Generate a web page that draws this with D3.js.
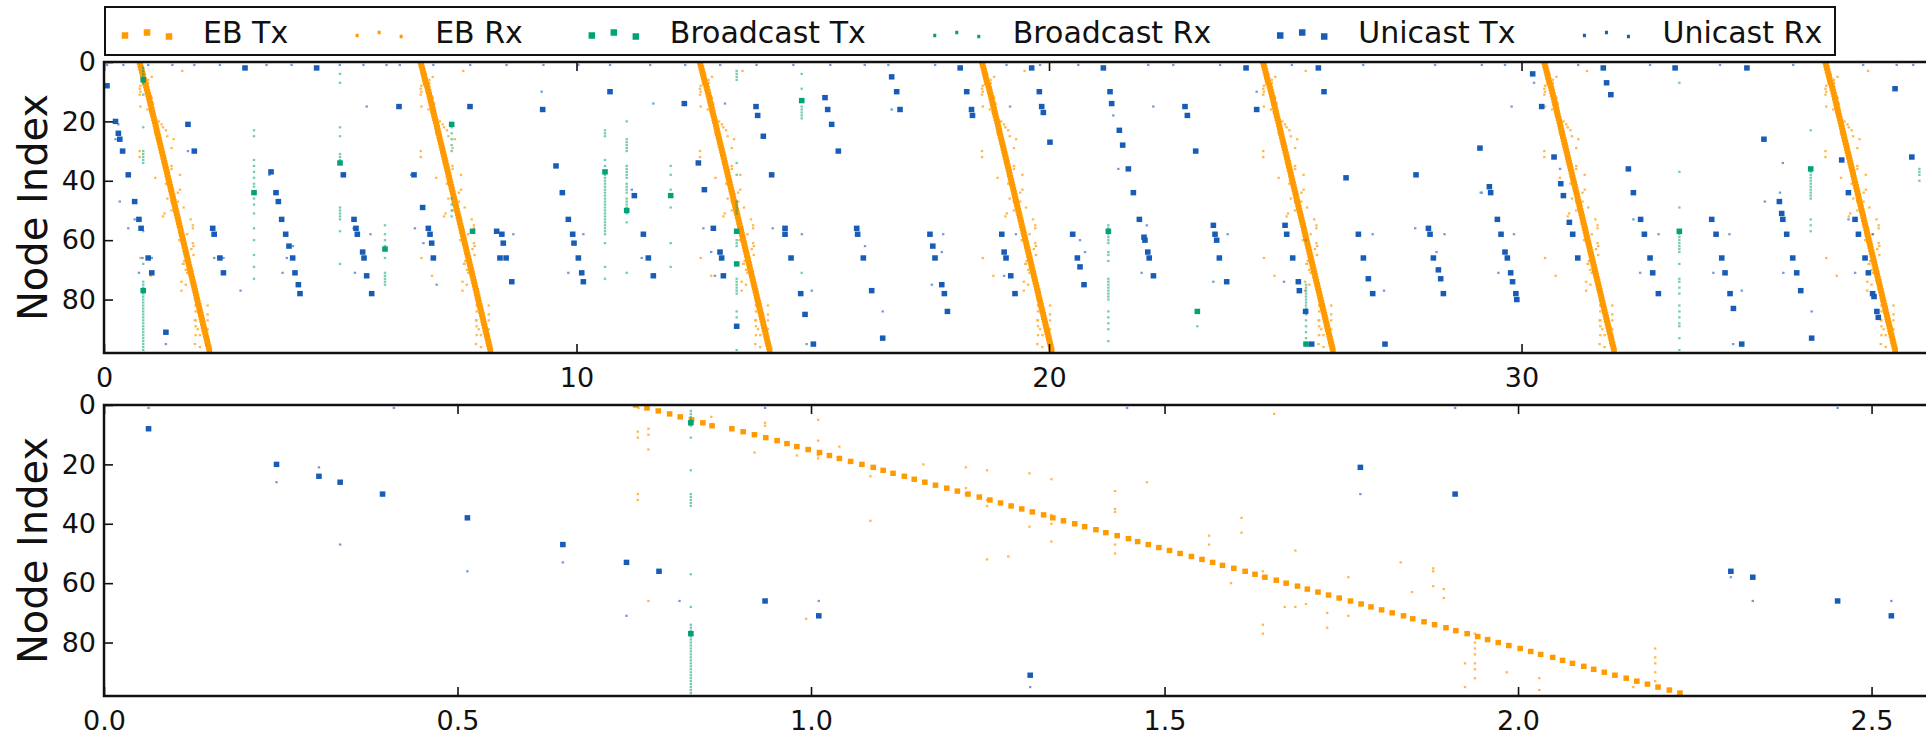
<!DOCTYPE html>
<html>
<head>
<meta charset="utf-8">
<script src="https://cdn.jsdelivr.net/npm/d3@7"></script>
<style>
  body { margin: 0; background: #fff; }
  svg { display: block; font-family: "DejaVu Sans", sans-serif; }
</style>
</head>
<body>
<script>
// legend / axis text
var legendLabels = ["EB Tx", "EB Rx", "Broadcast Tx", "Broadcast Rx", "Unicast Tx", "Unicast Rx"];
var xTicksTop = [0, 10, 20, 30];
var xTicksBottom = [0, 0.5, 1.0, 1.5, 2.0, 2.5];
var yTicks = [0, 20, 40, 60, 80];

// start time of each EB round (top panel)
var ebStart = [0.752, 6.70, 12.61, 18.58, 24.53, 30.48, 36.43];

// delay after round start at which node k sends its EB
var ebTxDelay = [
  0.000, 0.016, 0.032, 0.048, 0.063, 0.079, 0.095, 0.108, 0.136, 0.152,
  0.168, 0.184, 0.200, 0.214, 0.228, 0.244, 0.260, 0.274, 0.288, 0.304,
  0.320, 0.336, 0.350, 0.364, 0.380, 0.394, 0.409, 0.424, 0.440, 0.455,
  0.470, 0.486, 0.501, 0.516, 0.531, 0.546, 0.561, 0.577, 0.590, 0.605,
  0.621, 0.635, 0.651, 0.665, 0.681, 0.697, 0.710, 0.725, 0.740, 0.755,
  0.770, 0.786, 0.801, 0.816, 0.830, 0.846, 0.862, 0.876, 0.890, 0.906,
  0.920, 0.936, 0.950, 0.965, 0.980, 0.995, 1.011, 1.026, 1.040, 1.055,
  1.070, 1.086, 1.099, 1.115, 1.130, 1.146, 1.160, 1.176, 1.191, 1.205,
  1.220, 1.235, 1.251, 1.266, 1.280, 1.297, 1.311, 1.325, 1.341, 1.355,
  1.370, 1.385, 1.401, 1.416, 1.431, 1.446, 1.462, 1.477
];

// EB receptions of the first round [time, node]
var ebRx = [
  [0.756,1],[0.755,9],[0.755,11],[0.755,30],[0.755,32],[0.770,8],[0.770,10],[0.770,15],[0.770,66],
  [0.859,4],[0.920,16],[0.935,6],[0.935,7],[0.980,17],[1.010,5],[1.010,12],[1.010,17],[1.010,18],
  [1.040,14],[0.993,72],[1.084,24],[1.084,39],[1.159,20],[1.219,21],[1.219,28],[1.219,30],
  [1.249,22],[1.249,32],[1.249,34],[1.249,52],[1.279,51],[1.309,23],[1.309,41],[1.340,25],
  [1.340,37],[1.340,40],[1.340,46],[1.430,29],[1.430,35],[1.430,36],[1.430,47],[1.430,50],
  [1.475,26],[1.563,44],[1.563,47],[1.594,60],[1.609,38],[1.609,43],[1.639,56],[1.639,58],
  [1.639,74],[1.639,77],[1.655,3],[1.670,68],[1.685,68],[1.685,49],[1.700,67],[1.730,70],[1.730,75],
  [1.760,58],[1.760,71],[1.834,53],[1.850,63],[1.880,55],[1.880,56],[1.880,61],[1.895,62],[1.895,65],
  [1.925,87],[1.925,95],[1.939,77],[1.939,80],[1.939,82],[1.939,84],[1.939,87],[1.939,89],[1.939,92],
  [1.984,90],[2.030,92],[2.030,96],[2.163,95],[2.194,82],[2.194,85],[2.194,87],[2.194,90],[2.194,93]
];

// broadcast transmissions [time, node]
var bcTx = [
  [0.830,6],[0.830,77],[3.175,44],[4.995,34],[5.947,63],[7.358,21],[7.800,57],[10.603,37],
  [11.062,50],[11.993,45],[13.390,57],[13.390,68],[14.766,13],[21.256,57],[23.139,84],
  [25.439,95],[33.340,57],[36.120,36]
];

// broadcast receptions: [time, [nodes]]
var bcRx = [
  [0.830, [2,3,4,5,7,11,22,30,31,32,33,34,57,68,74,75,76,78,79,80,81,82,83,84,85,86,87,88,89,90,91,92,93,94,95,96,97]],
  [3.175, [23,25,33,35,37,39,41,42,46,48,51,56,60,65,69,73]],
  [4.995, [4,7,22,25,31,32,33,49,50,51,52,53,57,68]],
  [5.947, [55,58,60,62,66,71,72,73,74,75]],
  [7.358, [21,22,24,26,28,30,46,48,50,52]],
  [10.603, [23,24,25,33,35,38,39,40,41,42,43,44,45,46,47,48,49,50,51,52,53,54,55,56,57,58,61,69,73]],
  [11.062, [20,26,27,28,29,30,35,36,37,38,39,41,42,43,44,46,47,48,49,51,54,71]],
  [11.993, [35,38,43,49,61,69]],
  [13.390, [3,4,5,6,34,38,47,48,49,50,51,60,61,62,73,74,75,76,77,78,84,86,97]],
  [14.766, [4,9,15,16,17,18,19,71]],
  [21.256, [55,56,58,59,60,61,64,65,67,73,74,75,76,77,78,79,80,84,86,88,90,94]],
  [23.139, [89]],
  [25.439, [60,75,76,77,78,79,80,81,82,83,85,87,89,91,93]],
  [33.340, [7,37,49,57,58,59,60,61,62,63,64,68,73,74,76,78,82,84,86,88,89,93,97]],
  [36.120, [23,36,37,38,39,40,41,42,43,44,45,46,53,55,57]],
  [38.420, [36,37,38,40]]
];

// unicast transmissions [time, node]
var ucTx = [
  [0.063,8],[0.244,20],[0.304,24],[0.334,26],[0.394,30],[0.514,38],[0.649,47],[0.739,53],[0.785,56],
  [0.935,66],[1.011,71],[1.310,91],[1.777,21],[1.911,30],[2.301,56],[2.332,58],[2.452,66],[2.528,71],
  [2.984,2],[3.535,37],[3.640,44],[3.690,47],[3.760,53],[3.845,58],[3.915,62],[3.993,66],[4.042,71],
  [4.113,75],[4.148,78],[4.500,2],[5.065,38],[5.291,53],[5.333,56],[5.361,58],[5.474,64],[5.503,66],
  [5.559,72],[5.665,78],[6.243,15],[6.561,38],[6.744,49],[6.864,56],[6.900,58],[6.935,61],[6.970,66],
  [7.746,15],[8.310,57],[8.380,66],[8.420,58],[8.450,61],[8.510,66],[8.630,74],[9.284,16],[9.566,35],
  [9.700,44],[9.827,53],[9.919,58],[9.947,61],[10.039,66],[10.110,71],[10.145,74],[10.709,10],
  [11.224,45],[11.415,58],[11.520,66],[11.626,72],[12.282,14],[12.579,34],[12.706,43],[12.896,56],
  [13.037,64],[13.072,66],[13.108,72],[13.390,89],[13.799,15],[13.834,18],[13.954,25],[14.130,38],
  [14.413,56],[14.413,58],[14.540,66],[14.745,78],[14.836,85],[15.013,95],[15.259,12],[15.316,16],
  [15.400,21],[15.541,30],[15.930,56],[15.950,58],[16.070,66],[16.247,77],[16.480,93],[16.670,5],
  [16.776,10],[16.847,16],[17.480,58],[17.540,62],[17.587,66],[17.730,75],[17.785,78],[17.850,84],
  [18.120,2],[18.258,10],[18.360,16],[18.380,18],[19.000,58],[19.050,64],[19.090,66],[19.190,72],
  [19.280,78],[19.633,2],[19.795,10],[19.845,15],[19.880,17],[20.020,27],[20.501,58],[20.600,66],
  [20.656,69],[20.741,75],[21.150,2],[21.291,10],[21.326,14],[21.488,23],[21.559,28],[21.679,36],
  [21.785,44],[21.912,53],[22.010,59],[22.030,60],[22.090,64],[22.120,66],[22.210,72],[22.878,15],
  [22.928,18],[23.104,30],[23.478,55],[23.513,58],[23.548,60],[23.605,66],[23.760,74],[24.170,2],
  [24.395,16],[24.995,55],[25.030,58],[25.157,66],[25.277,74],[25.298,77],[25.430,84],[25.559,95],
  [25.700,2],[25.820,10],[26.286,39],[26.547,58],[26.653,66],[26.758,73],[26.850,78],[27.110,95],
  [27.767,38],[28.030,56],[28.064,58],[28.134,66],[28.240,70],[28.289,73],[28.346,78],[29.120,29],
  [29.319,42],[29.347,44],[29.489,53],[29.566,58],[29.650,64],[29.700,66],[29.770,71],[29.810,74],
  [29.880,78],[29.900,80],[30.236,4],[30.427,15],[30.688,32],[30.830,41],[30.886,45],[31.012,54],
  [31.083,58],[31.190,66],[31.730,2],[31.800,7],[31.890,11],[32.261,36],[32.367,44],[32.520,53],
  [32.600,58],[32.720,66],[32.776,71],[32.896,78],[33.250,2],[34.025,53],[34.117,58],[34.237,66],
  [34.307,71],[34.413,78],[34.484,83],[34.660,95],[34.770,2],[35.130,26],[35.457,47],[35.506,51],
  [35.530,53],[35.612,58],[35.740,66],[35.824,71],[35.909,77],[36.140,93],[36.776,33],[36.918,44],
  [37.058,53],[37.130,58],[37.270,66],[37.340,71],[37.430,78],[37.460,79],[37.520,84],[37.550,86],
  [37.905,9],[38.260,32]
];

// unicast receptions [time, node]
var ucRx = [
  [0.063,1],[0.410,1],[0.935,1],[1.447,1],[1.911,1],[2.452,1],[3.440,1],[3.970,1],[4.990,1],[5.490,1],
  [5.980,1],[6.260,1],[6.970,1],[7.750,1],[8.520,1],[9.300,1],[10.040,1],[10.710,1],[11.560,1],
  [12.300,1],[13.040,1],[13.810,1],[14.590,1],[15.370,1],[16.100,1],[16.600,1],[17.590,1],[19.100,1],
  [19.810,1],[20.620,1],[22.100,1],[22.630,1],[23.620,1],[25.140,1],[26.650,1],[28.170,1],[29.160,1],
  [29.650,1],[31.200,1],[32.720,1],[34.200,1],[35.750,1],[37.230,1],[37.940,1],[38.290,1],
  [0.244,26],[0.304,21],[0.334,47],[0.514,56],[0.649,53],[0.739,71],[0.814,66],[1.011,66],[1.310,95],
  [1.777,30],[2.301,58],[2.332,66],[2.528,66],[2.890,77],[3.780,71],[3.500,38],[3.620,44],[3.740,53],
  [3.870,66],[4.000,62],[5.280,56],[5.640,58],[5.310,71],[5.560,15],[6.580,56],[6.760,61],[7.040,75],
  [6.500,38],[9.263,10],[8.663,58],[10.145,58],[9.827,71],[11.626,14],[11.170,43],[12.685,56],
  [12.930,72],[13.143,14],[14.152,56],[14.770,58],[14.980,77],[14.870,95],[16.480,84],[16.106,62],
  [17.760,58],[17.730,64],[17.520,75],[16.670,16],[9.680,44],[11.380,66],[12.850,64],[19.175,15],
  [19.300,58],[19.050,72],[20.656,60],[20.762,64],[21.360,18],[21.467,36],[22.070,55],[21.960,71],
  [22.208,15],[24.395,10],[23.478,74],[23.780,58],[24.974,74],[26.850,58],[27.090,77],[27.750,56],
  [28.370,58],[28.200,64],[29.160,44],[30.265,7],[29.790,15],[29.136,44],[29.840,58],[29.510,71],
  [30.815,36],[32.367,53],[32.900,58],[32.510,71],[34.660,77],[34.400,58],[34.480,95],[34.060,71],
  [35.530,34],[35.470,44],[35.150,47],[36.140,84],[35.540,71],[37.060,71],[37.430,58],[36.920,53]
];

var orange = "#ff9a00", green = "#00a277", blue = "#175cb6";

// expand the per-round EB pattern over all rounds
var ebTx = [];
ebStart.forEach(function(s) {
  ebTxDelay.forEach(function(d, k) { ebTx.push([s + d, k]); });
});
var ebRxAll = [];
ebStart.forEach(function(s) {
  ebRx.forEach(function(p) { ebRxAll.push([p[0] - ebStart[0] + s, p[1]]); });
});
var bcRxAll = [];
bcRx.forEach(function(c) {
  c[1].forEach(function(n) { bcRxAll.push([c[0], n]); });
});

var series = [
  {data: ebTx, color: orange, tx: true, op: 1},
  {data: ebRxAll, color: orange, tx: false, op: 0.7},
  {data: bcTx, color: green, tx: true, op: 1},
  {data: bcRxAll, color: green, tx: false, op: 0.55},
  {data: ucTx, color: blue, tx: true, op: 1},
  {data: ucRx, color: blue, tx: false, op: 0.6}
];

var w = 1926, h = 735;
var left = 104;

var svg = d3.select("body").append("svg")
  .attr("width", w)
  .attr("height", h);

var panels = [
  {top: 62, bottom: 353, xmax: 38.56, ticks: xTicksTop, fmt: d3.format("d")},
  {top: 405, bottom: 696, xmax: 2.577, ticks: xTicksBottom, fmt: d3.format(".1f")}
];

panels.forEach(function(p, i) {
  var x = d3.scaleLinear().domain([0, p.xmax]).range([left, w]);
  var y = d3.scaleLinear().domain([0, 98]).range([p.top, p.bottom]);

  svg.append("clipPath").attr("id", "clip" + i)
    .append("rect")
    .attr("x", left).attr("y", p.top)
    .attr("width", w - left).attr("height", p.bottom - p.top);

  var g = svg.append("g").attr("clip-path", "url(#clip" + i + ")");

  series.forEach(function(s) {
    var sw = s.tx ? 5.6 : 2.4;
    var sh = s.tx ? 5.4 : 2.2;
    g.append("g")
      .attr("fill", s.color)
      .attr("opacity", s.op)
      .selectAll("rect")
      .data(s.data.filter(function(d) { return d[0] <= p.xmax + 0.2; }))
      .enter()
      .append("rect")
      .attr("x", function(d) { return x(d[0]) - sw / 2; })
      .attr("y", function(d) { return y(d[1]) - sh / 2; })
      .attr("width", sw)
      .attr("height", sh);
  });

  // axes, classic inward ticks
  var xb = svg.append("g")
    .attr("transform", "translate(0," + p.bottom + ")")
    .call(d3.axisBottom(x).tickValues(p.ticks).tickFormat(p.fmt).tickSize(-9).tickPadding(15));
  var xt = svg.append("g")
    .attr("transform", "translate(0," + p.top + ")")
    .call(d3.axisTop(x).tickValues(p.ticks).tickFormat("").tickSize(-9));
  var yl = svg.append("g")
    .attr("transform", "translate(" + left + ",0)")
    .call(d3.axisLeft(y).tickValues(yTicks).tickSize(-9).tickPadding(8));

  [xb, xt, yl].forEach(function(a) {
    a.select(".domain").remove();
    a.selectAll(".tick line").attr("stroke", "#111").attr("stroke-width", 1.6);
    a.selectAll("text")
      .attr("fill", "#111")
      .style("font-family", "'DejaVu Sans', sans-serif")
      .style("font-size", "27px");
  });

  // frame (right side falls outside the picture)
  svg.append("rect")
    .attr("x", left).attr("y", p.top)
    .attr("width", w + 10 - left).attr("height", p.bottom - p.top)
    .attr("fill", "none")
    .attr("stroke", "#111")
    .attr("stroke-width", 2.5);

  svg.append("text")
    .attr("transform", "translate(47," + ((p.top + p.bottom) / 2) + ") rotate(-90)")
    .attr("text-anchor", "middle")
    .attr("fill", "#111")
    .style("font-size", "40px")
    .text("Node Index");
});

// legend
var lg = svg.append("g");
lg.append("rect")
  .attr("x", 105).attr("y", 7)
  .attr("width", 1730).attr("height", 48)
  .attr("fill", "#fff")
  .attr("stroke", "#111")
  .attr("stroke-width", 2);

var markerY = [35.5, 32.5, 36.5];
var cx = 125;
legendLabels.forEach(function(label, i) {
  var s = series[i];
  var sw = s.tx ? 6.5 : 3;
  var sh = s.tx ? 6.5 : 3.5;
  lg.append("g").attr("fill", s.color)
    .selectAll("rect")
    .data(markerY)
    .enter()
    .append("rect")
    .attr("x", function(d, j) { return cx + j * 22 - sw / 2; })
    .attr("y", function(d) { return d - sh / 2; })
    .attr("width", sw)
    .attr("height", sh);
  var t = lg.append("text")
    .attr("x", cx + 78)
    .attr("y", 43)
    .attr("fill", "#111")
    .style("font-size", "30px")
    .text(label);
  cx = cx + 78 + t.node().getComputedTextLength() + 69;
});
</script>
</body>
</html>
